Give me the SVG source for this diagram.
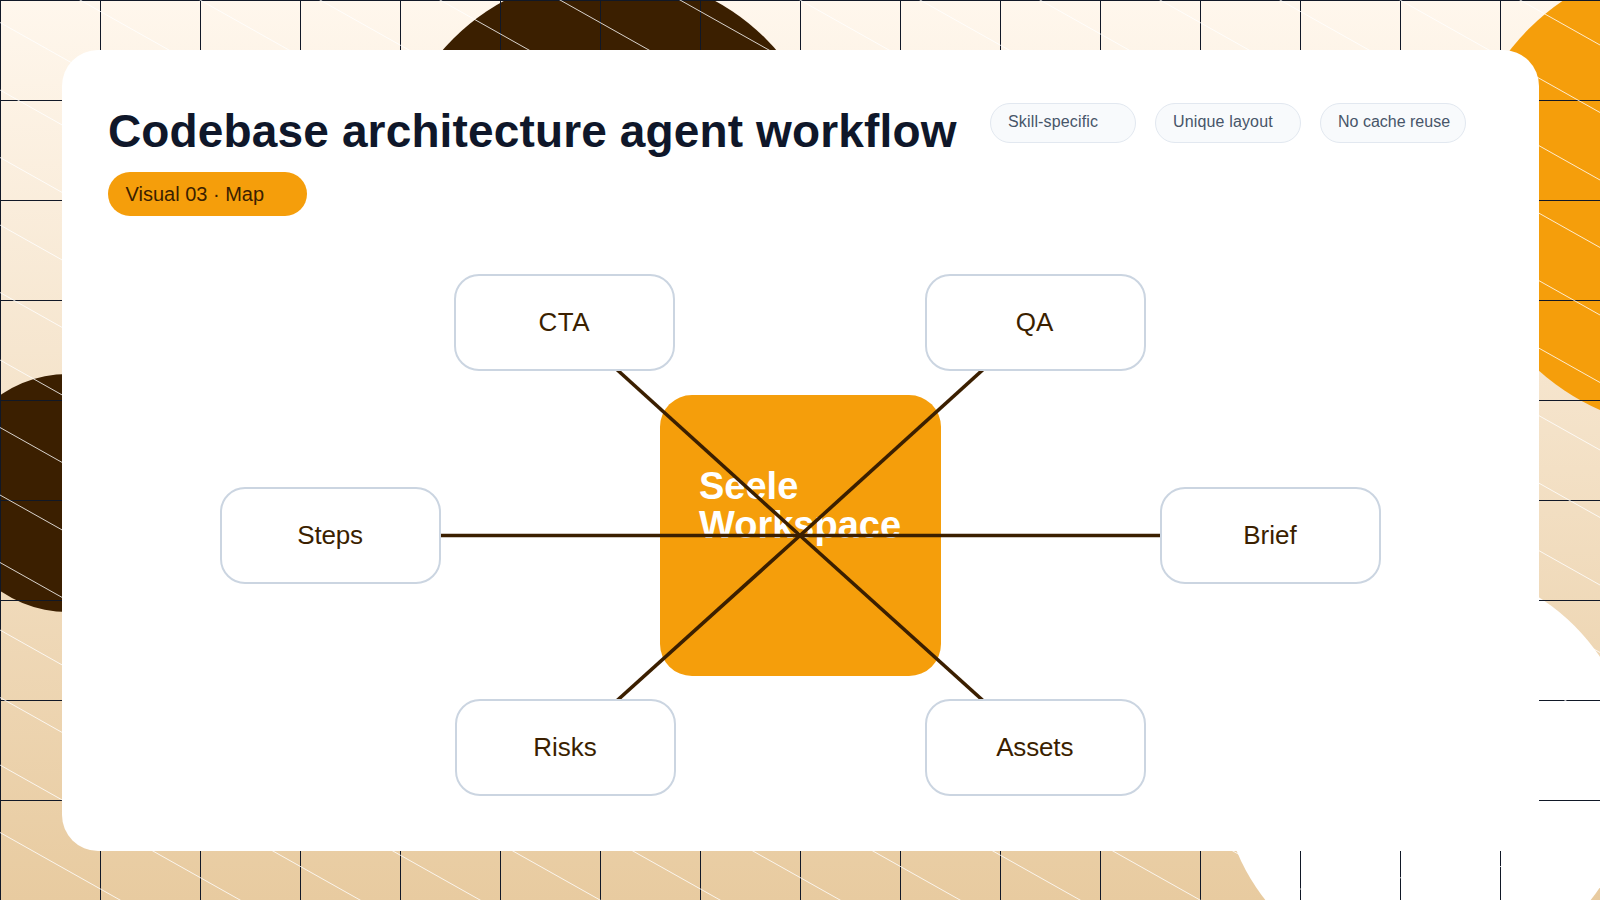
<svg xmlns="http://www.w3.org/2000/svg" width="1600" height="900" viewBox="0 0 1600 900">
  <style>
    text { font-family: "Liberation Sans", Arial, sans-serif; }
    .node rect { fill: #ffffff; stroke: #cbd5e1; stroke-width: 2; }
    .node text { font-size: 26px; fill: #3b1f00; text-anchor: middle; }
    .tag rect { fill: #f8fafc; stroke: #e2e8f0; stroke-width: 1; }
    .tag text { font-size: 16px; fill: #475569; }
    #connectors line { stroke: #3b1f00; stroke-width: 3.6; }
  </style>
  <defs>
    <linearGradient id="bg" x1="0" y1="0" x2="0" y2="1">
      <stop offset="0" stop-color="#fff7ed"/>
      <stop offset="1" stop-color="#e8cba0"/>
    </linearGradient>
    <pattern id="grid" width="100" height="100" patternUnits="userSpaceOnUse">
      <path d="M0 .5H100M.5 0V100" stroke="#111827" stroke-width="1" fill="none"/>
    </pattern>
  </defs>
  <g id="background">
    <rect width="1600" height="900" fill="url(#bg)"/>
    <circle cx="609.5" cy="195" r="221" fill="#3b1f00"/>
    <circle cx="1695" cy="195" r="235" fill="#f59e0b"/>
    <circle cx="68" cy="493" r="119" fill="#3b1f00"/>
    <circle cx="1428" cy="772" r="207" fill="#ffffff"/>
    <rect width="1600" height="900" fill="url(#grid)"/>
    <path id="hatch" fill="none" stroke="#ffffff" stroke-width="1" stroke-opacity="0.8" d="M0 -855L1600 45M0 -787.5L1600 112.5M0 -720L1600 180M0 -652.5L1600 247.5M0 -585L1600 315M0 -517.5L1600 382.5M0 -450L1600 450M0 -382.5L1600 517.5M0 -315L1600 585M0 -247.5L1600 652.5M0 -180L1600 720M0 -112.5L1600 787.5M0 -45L1600 855M0 22.5L1600 922.5M0 90L1600 990M0 157.5L1600 1057.5M0 225L1600 1125M0 292.5L1600 1192.5M0 360L1600 1260M0 427.5L1600 1327.5M0 495L1600 1395M0 562.5L1600 1462.5M0 630L1600 1530M0 697.5L1600 1597.5M0 765L1600 1665M0 832.5L1600 1732.5"/>
  </g>
  <rect id="card" x="62" y="50" width="1477" height="801" rx="36" fill="#ffffff"/>
  <text id="title" x="108" y="147" font-size="46" font-weight="700" letter-spacing="0.14" fill="#0f172a">Codebase architecture agent workflow</text>
  <g id="badge">
    <rect x="108" y="172" width="199" height="44" rx="22" fill="#f59e0b"/>
    <text x="125.5" y="201" font-size="20" fill="#3b1f00">Visual 03 · Map</text>
  </g>
  <g id="tag-skill" class="tag">
    <rect x="990.5" y="103.5" width="145" height="39" rx="19.5"/>
    <text x="1008" y="127" letter-spacing="0.15">Skill-specific</text>
  </g>
  <g id="tag-layout" class="tag">
    <rect x="1155.5" y="103.5" width="145" height="39" rx="19.5"/>
    <text x="1173" y="127" letter-spacing="0.15">Unique layout</text>
  </g>
  <g id="tag-cache" class="tag">
    <rect x="1320.5" y="103.5" width="145" height="39" rx="19.5"/>
    <text x="1338" y="127">No cache reuse</text>
  </g>
  <g id="node-center">
    <rect x="660" y="395" width="281" height="281" rx="32" fill="#f59e0b"/>
    <text font-size="38" font-weight="700" fill="#ffffff"><tspan x="699" y="499">Seele</tspan><tspan x="699" y="537.5">Workspace</tspan></text>
  </g>
  <g id="connectors">
    <line x1="800" y1="535.5" x2="330" y2="535.5"/>
    <line x1="800" y1="535.5" x2="1270" y2="535.5"/>
    <line x1="800" y1="535.5" x2="565" y2="322.5"/>
    <line x1="800" y1="535.5" x2="1035" y2="322.5"/>
    <line x1="800" y1="535.5" x2="565" y2="747.5"/>
    <line x1="800" y1="535.5" x2="1035" y2="747.5"/>
  </g>
  <g id="node-cta" class="node">
    <rect x="455" y="275" width="219" height="95" rx="24"/>
    <text x="564.2" y="331" letter-spacing="0.5">CTA</text>
  </g>
  <g id="node-qa" class="node">
    <rect x="926" y="275" width="219" height="95" rx="24"/>
    <text x="1034.5" y="331">QA</text>
  </g>
  <g id="node-steps" class="node">
    <rect x="221" y="488" width="219" height="95" rx="24"/>
    <text x="330" y="544" letter-spacing="-0.2">Steps</text>
  </g>
  <g id="node-brief" class="node">
    <rect x="1161" y="488" width="219" height="95" rx="24"/>
    <text x="1270" y="544">Brief</text>
  </g>
  <g id="node-risks" class="node">
    <rect x="456" y="700" width="219" height="95" rx="24"/>
    <text x="565" y="756">Risks</text>
  </g>
  <g id="node-assets" class="node">
    <rect x="926" y="700" width="219" height="95" rx="24"/>
    <text x="1034.7" y="756" letter-spacing="-0.15">Assets</text>
  </g>
</svg>
